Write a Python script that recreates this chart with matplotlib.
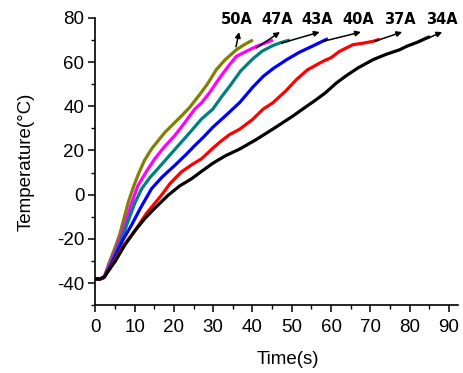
import matplotlib
matplotlib.use('Agg')
import matplotlib.pyplot as plt
from matplotlib.ticker import MultipleLocator

plt.rcParams['axes.unicode_minus'] = False

# curve data (time s, temperature C)
t_50 = [0, 1, 2.2, 3.3, 5, 6.2, 7.1, 8.4, 10, 11, 12.5, 14.3, 17.7, 21.9, 24, 26.6, 28.5, 30.8, 33, 35.9, 38, 40.1]
T_50 = [-38, -38.3, -37.5, -31.8, -24, -18, -12, -3.3, 5, 9.5, 15.5, 20.7, 28.2, 35.6, 39.5, 45.4, 50, 56.6, 61, 65.6, 68, 70]

t_47 = [0, 1, 2.2, 3.5, 5, 6.5, 7.5, 9, 10.8, 13, 15.1, 17.5, 20.2, 22.5, 25.3, 27, 29, 31.7, 34, 35.9, 38, 41, 43, 45.2]
T_47 = [-38, -38.3, -37.5, -32, -26, -19, -14, -5, 4, 10.5, 16.2, 21.5, 26.7, 32, 38.7, 41.5, 46, 53, 58.5, 62.6, 64.5, 67.1, 68.5, 70]

t_43 = [0, 1, 2.2, 3.5, 5, 7, 8.3, 10, 11.8, 14, 15.9, 19, 21.9, 24, 27, 29.9, 32, 34.2, 37, 40.1, 42.5, 45.2, 47.5, 49.5]
T_43 = [-38, -38.3, -37.5, -33, -27, -18.5, -12.2, -4, 2.7, 8, 11.7, 18, 23.8, 28, 34.2, 38.7, 44, 49.1, 56, 61.5, 65, 67.5, 69, 70]

t_40 = [0, 1, 2.2, 3.5, 5, 7, 9.2, 11.5, 14.3, 17, 20.2, 23, 25.3, 27.5, 29.9, 33, 36.8, 40, 42.7, 45.2, 48.7, 52, 55, 57.1, 59.2]
T_40 = [-38, -38.3, -37.5, -33.5, -28, -20.5, -13.8, -6, 2.7, 8, 13.2, 18, 22.2, 26, 30.5, 35.5, 41.8, 48.5, 53.5, 57, 61.1, 64.5, 67, 68.8, 70.6]

t_37 = [0, 1, 2.2, 3.5, 5, 7, 10, 13, 16.8, 19, 21.9, 24.5, 27, 29.9, 31.7, 34, 36.8, 40, 42.7, 45.2, 48.5, 51.2, 54, 58, 60, 62.2, 65.6, 68, 70.7, 72.4]
T_37 = [-38, -38.3, -37.3, -34, -29.5, -23.5, -16.5, -8.5, -0.3, 5, 10.3, 13.5, 16.2, 21, 23.8, 27, 29.7, 34, 38.7, 41.6, 47, 52.1, 56.5, 60.4, 62, 64.9, 67.9, 68.5, 69.4, 70.4]

t_34 = [0, 1, 2.4, 3.5, 5, 7.5, 10, 12.6, 15.5, 18.5, 21.5, 24.5, 27, 29.9, 33, 36.8, 41, 45.2, 50.3, 53, 56.3, 58.5, 61.4, 64, 66.9, 70.7, 74, 77.5, 79.2, 82, 84.3, 85.2]
T_34 = [-38, -38.3, -37, -34, -30.3, -22.8, -16.5, -10.8, -5.5, -0.3, 4, 7.2, 10.5, 14.2, 17.5, 20.7, 25, 29.7, 35.6, 39, 43.1, 46, 50.6, 54, 57.4, 61.1, 63.5, 65.6, 67.1, 69, 70.9, 71.5]

labels = ['50A', '47A', '43A', '40A', '37A', '34A']
colors = ['#808000', '#ff00ff', '#008080', '#0000ff', '#ff0000', '#000000']
curves = [(t_50, T_50), (t_47, T_47), (t_43, T_43), (t_40, T_40), (t_37, T_37), (t_34, T_34)]

# arrow tails (curve end), arrow heads, label x positions
arrow_tail = [(35.8, 66.9), (41.0, 66.4), (47.4, 68.6), (58.0, 69.4), (71.1, 69.4), (81.7, 68.6)]
arrow_head = [(36.6, 73.6), (47.0, 73.6), (57.1, 73.6), (67.6, 73.6), (78.1, 73.6), (88.3, 73.6)]
label_x = [36.0, 46.4, 56.6, 67.0, 77.5, 88.2]
label_y = 79.1

fig = plt.figure(figsize=(4.63, 3.73), dpi=100)
ax = fig.add_axes([0.206, 0.182, 0.783, 0.770])

for (t, T), c in zip(curves, colors):
    ax.plot(t, T, color=c, lw=2.3, solid_capstyle='butt')

for i in range(len(labels)):
    ax.annotate('', xy=arrow_head[i], xytext=arrow_tail[i],
                arrowprops=dict(arrowstyle='-|>', color='black', lw=1.1,
                                mutation_scale=8, shrinkA=0, shrinkB=0))
    ax.text(label_x[i], label_y, labels[i], ha='center', va='center',
            fontsize=10.5, fontweight='bold', family='DejaVu Sans', clip_on=False)

ax.set_xlim(0, 92.3)
ax.set_ylim(-50, 80)
ax.xaxis.set_major_locator(MultipleLocator(10))
ax.xaxis.set_minor_locator(MultipleLocator(5))
ax.yaxis.set_major_locator(MultipleLocator(20))
ax.yaxis.set_minor_locator(MultipleLocator(10))

for s in ['top', 'right']:
    ax.spines[s].set_visible(False)
for s in ['left', 'bottom']:
    ax.spines[s].set_linewidth(1.2)

ax.tick_params(which='major', direction='out', length=5, width=1.1, labelsize=13.5)
ax.tick_params(axis='x', which='major', pad=5)
ax.tick_params(axis='y', which='major', pad=3)
ax.tick_params(which='minor', direction='out', length=3, width=1.0)
for lab in ax.get_xticklabels() + ax.get_yticklabels():
    lab.set_family('Liberation Sans')

ax.set_xlabel('Time(s)', fontsize=13.5, family='Liberation Sans')
ax.set_ylabel('Temperature(°C)', fontsize=13.5, family='Liberation Sans')
ax.xaxis.set_label_coords(0.53, -0.16)
ax.yaxis.set_label_coords(-0.167, 0.5)

fig.savefig('out.png', dpi=100)
